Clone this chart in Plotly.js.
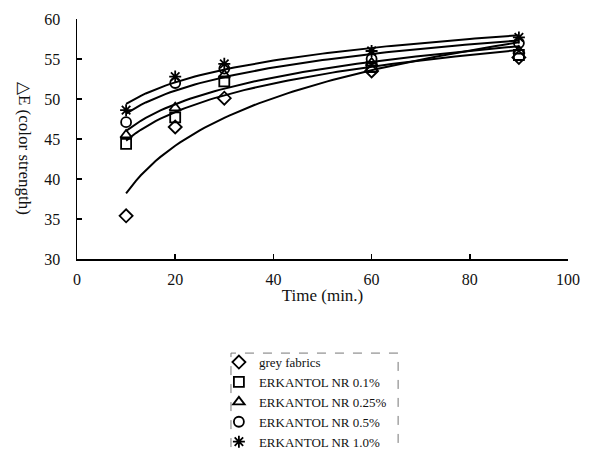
<!DOCTYPE html>
<html>
<head>
<meta charset="utf-8">
<script src="https://cdn.plot.ly/plotly-3.0.1.min.js"></script>
<style>html,body{margin:0;padding:0;background:#fff;}#chart{width:599px;height:450px;}</style>
</head>
<body>
<div id="chart"></div>
<script>
// Data
const times = [10, 20, 30, 60, 90];
const greyFabrics = [35.4, 46.5, 50.1, 53.5, 55.2];
const nr01 = [44.4, 47.7, 52.2, 54.0, 55.5];
const nr025 = [45.5, 48.9, 53.0, 54.5, 56.0];
const nr05 = [47.1, 52.0, 53.8, 55.0, 57.0];
const nr10 = [48.6, 52.8, 54.4, 56.0, 57.7];
const seriesNames = ['grey fabrics', 'ERKANTOL NR 0.1%', 'ERKANTOL NR 0.25%', 'ERKANTOL NR 0.5%', 'ERKANTOL NR 1.0%'];
const seriesValues = [greyFabrics, nr01, nr025, nr05, nr10];
const symbols = ['diamond-open', 'square-open', 'triangle-up-open', 'circle-open', 'asterisk-open'];
const xTicks = [0, 20, 40, 60, 80, 100];
const yTicks = [30, 35, 40, 45, 50, 55, 60];

// Logarithmic least-squares trendline (as in the spreadsheet chart)
function logFit(xs, ys) {
  const lx = xs.map(Math.log);
  const n = xs.length;
  const mx = lx.reduce((a, b) => a + b, 0) / n;
  const my = ys.reduce((a, b) => a + b, 0) / n;
  let sxy = 0, sxx = 0;
  for (let i = 0; i < n; i++) { sxy += (lx[i] - mx) * (ys[i] - my); sxx += (lx[i] - mx) ** 2; }
  const a = sxy / sxx, b = my - a * mx;
  const cx = [], cy = [];
  const x0 = Math.min(...xs), x1 = Math.max(...xs);
  for (let k = 0; k <= 80; k++) { const x = x0 + (x1 - x0) * k / 80; cx.push(x); cy.push(a * Math.log(x) + b); }
  return {x: cx, y: cy};
}

const traces = [];
seriesValues.forEach((vals, i) => {
  const fit = logFit(times, vals);
  traces.push({x: fit.x, y: fit.y, mode: 'lines', line: {color: '#000', width: 2}, showlegend: false, hoverinfo: 'skip'});
});
seriesValues.forEach((vals, i) => {
  traces.push({
    x: times, y: vals, mode: 'markers', name: seriesNames[i],
    marker: {symbol: symbols[i], size: 10, color: '#000', line: {color: '#000', width: 1.8}}
  });
});

const fontFam = '"Liberation Serif", "Times New Roman", serif';
const layout = {
  width: 599, height: 450,
  margin: {l: 77, r: 31, t: 19, b: 191, autoexpand: false},
  paper_bgcolor: '#fff', plot_bgcolor: '#fff',
  font: {family: fontFam, color: '#111', size: 16},
  xaxis: {
    range: [0, 100], tickvals: xTicks, ticktext: xTicks.map(String),
    ticks: 'inside', ticklen: 5, tickwidth: 1.5, tickcolor: '#000',
    showline: true, linecolor: '#000', linewidth: 1.5, showgrid: false, zeroline: false,
    ticklabelstandoff: 5,
    tickfont: {family: fontFam, size: 16, color: '#111'},
    title: {text: 'Time (min.)', font: {family: fontFam, size: 17, color: '#111'}, standoff: 2}
  },
  yaxis: {
    range: [30, 60], tickvals: yTicks, ticktext: yTicks.map(String),
    ticks: 'inside', ticklen: 5, tickwidth: 1.5, tickcolor: '#000',
    showline: true, linecolor: '#000', linewidth: 1.5, showgrid: false, zeroline: false,
    ticklabelstandoff: 12,
    tickfont: {family: fontFam, size: 16, color: '#111'}
  },
  annotations: [{
    text: '△E (color strength)', xref: 'paper', yref: 'paper', x: -0.13, y: 0.46,
    textangle: 90, showarrow: false, font: {family: fontFam, size: 17, color: '#111'}
  }],
  shapes: [{
    type: 'rect', xref: 'paper', yref: 'paper', x0: 0.3136, x1: 0.654, y0: -0.82, y1: -0.392,
    line: {color: '#777', width: 1, dash: 'dash'}
  }],
  showlegend: true,
  legend: {
    x: 0.289, y: -0.367, xanchor: 'left', yanchor: 'top',
    font: {family: fontFam, size: 13, color: '#111'},
    bgcolor: 'rgba(0,0,0,0)', borderwidth: 0, itemwidth: 30, tracegroupgap: 0
  }
};
Plotly.newPlot('chart', traces, layout, {displayModeBar: false, staticPlot: true});
</script>
</body>
</html>
